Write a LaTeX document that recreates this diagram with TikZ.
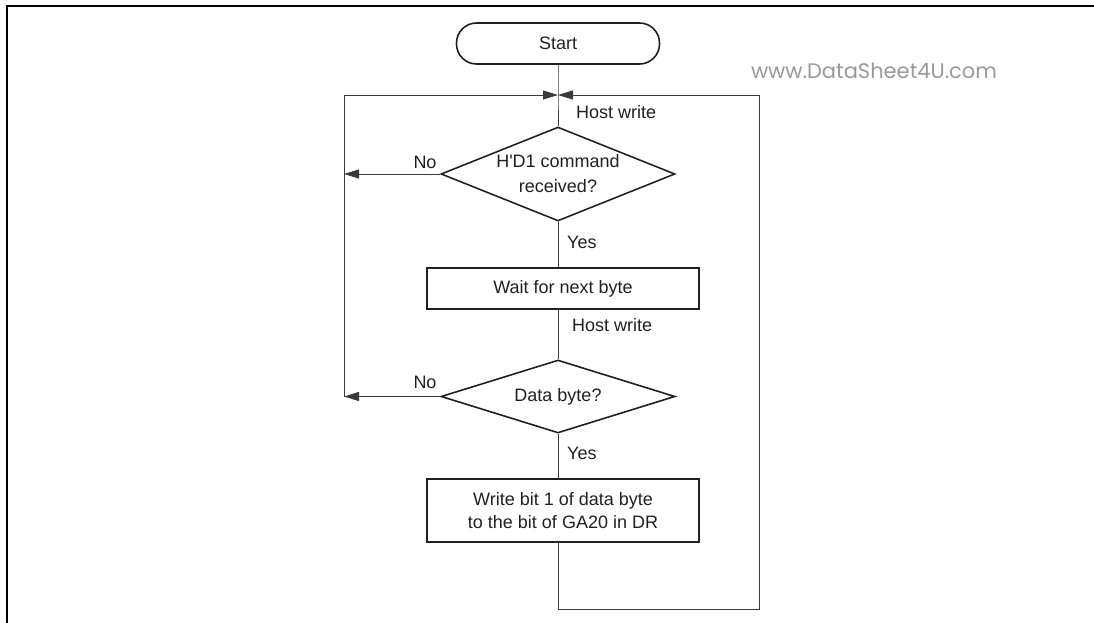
\documentclass[tikz,border=0pt]{standalone}
\usepackage{fontspec}
\setmainfont{Liberation Sans}
\newfontfamily\wmfont{Poppins}
\usetikzlibrary{arrows.meta,shapes.geometric}
\definecolor{ink}{HTML}{231F20}
\definecolor{lin}{HTML}{3A3A3A}
\begin{document}
\begin{tikzpicture}[x=1pt,y=-1pt,
  txt/.style={font=\fontsize{18}{25}\selectfont, text=ink, inner sep=0pt, align=center},
  boxst/.style={draw=ink, line width=1.6pt, minimum height=41pt, minimum width=272pt, inner sep=0pt},
  termst/.style={draw=ink, line width=1.6pt, rounded corners=20pt, minimum height=41pt, minimum width=203pt, inner sep=0pt},
  decst/.style={draw=ink, line width=1.6pt, diamond, inner sep=0pt, minimum width=234pt},
  conn/.style={draw=lin, line width=0.9pt},
  arr/.style={conn, -{Triangle[length=15pt,width=9pt]}},
  lbl/.style={font=\fontsize{18}{22}\selectfont, text=ink, inner sep=0pt}
]
\useasboundingbox (0,0) rectangle (1094,623);
% frame
\draw[black, line width=2.6pt] (7,623) -- (7,6) -- (1094,6);
% watermark
\node[font=\wmfont\fontsize{21}{24}\selectfont, text=black!40, inner sep=0pt] (wm) at (874,71) {www.DataSheet4U.com};

% nodes
\node[termst] (start) at (558,43.5) {};
\node[txt] (startt) at (start.center) {Start};
\coordinate (j1) at (558,95);
\coordinate (lc) at (344,95);
\coordinate (rc) at (759,95);
\node[decst, minimum height=94pt] (d1) at (558,174) {};
\node[txt] (d1t) at (d1.center) {H\textquotesingle D1 command\\received?};
\node[boxst] (b1) at (563,288.5) {};
\node[txt] (b1t) at (b1.center) {Wait for next byte};
\node[decst, minimum height=73pt] (d2) at (558,396.5) {};
\node[txt] (d2t) at (d2.center) {Data byte?};
\node[boxst, minimum height=63pt] (b2) at (563,510.5) {};
\node[txt, font=\fontsize{18}{23}\selectfont] (b2t) at (b2.center) {Write bit 1 of data byte\\to the bit of GA20 in DR};
\coordinate (bl) at (558,609);
\coordinate (br) at (759,609);

% connectors
\draw[conn] (start.south) -- (j1) -- (d1.north);
\draw[conn] (d1.south) -- (d1.south |- b1.north);
\draw[conn] (b1.south -| d2.north) -- (d2.north);
\draw[conn] (d2.south) -- (d2.south |- b2.north);
\draw[conn] (b2.south -| bl) -- (bl) -- (br) -- (rc);
\draw[arr] (rc) -- (j1);
\draw[conn] (d2.west -| lc) -- (lc);
\draw[arr] (lc) -- (j1);
\draw[arr] (d1.west) -- (d1.west -| lc);
\draw[arr] (d2.west) -- (d2.west -| lc);

% labels
\node[lbl, anchor=west] (hw1) at (576,112) {Host write};
\node[lbl, anchor=west] (hw2) at (572,325) {Host write};
\node[lbl] (no1) at (425,162) {No};
\node[lbl] (no2) at (425,382) {No};
\node[lbl, anchor=west] (yes1) at (567,242) {Yes};
\node[lbl, anchor=west] (yes2) at (567,453) {Yes};
\end{tikzpicture}
\end{document}
